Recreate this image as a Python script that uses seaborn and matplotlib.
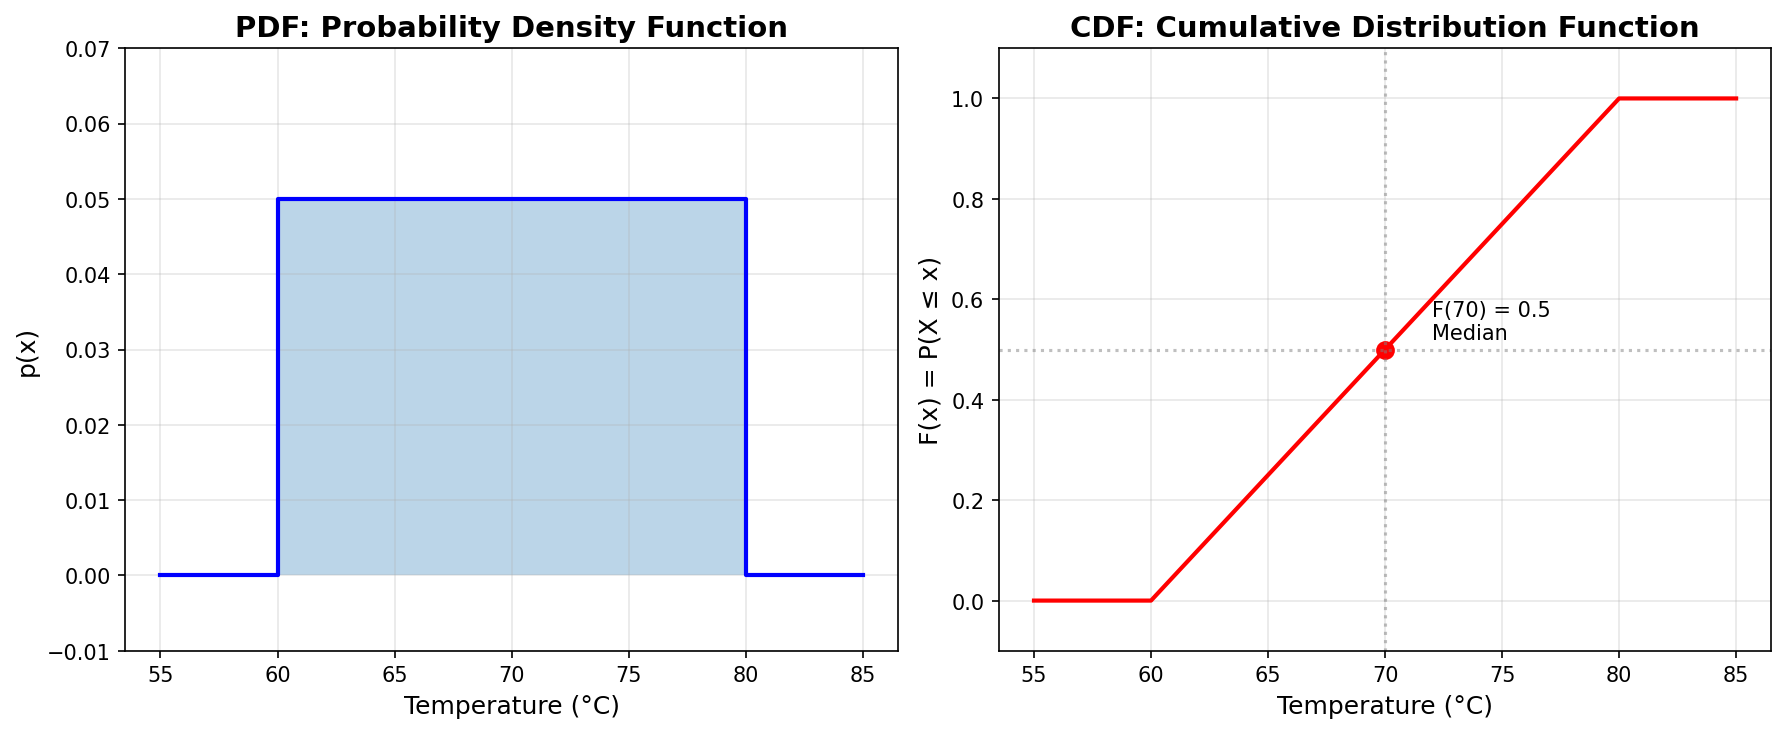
import numpy as np
import pandas as pd
import matplotlib
matplotlib.use("Agg")
import matplotlib.pyplot as plt
import seaborn as sns

# uniform distribution on [60, 80]
pdf_x = [55, 60, 60, 80, 80, 85]
pdf_y = [0.0, 0.0, 0.05, 0.05, 0.0, 0.0]
fill_x = [60, 80]
fill_y = [0.05, 0.05]

cdf_x = [55, 60, 80, 85]
cdf_y = [0.0, 0.0, 1.0, 1.0]

median_x = 70
median_y = 0.5

pdf_df = pd.DataFrame({"x": pdf_x, "y": pdf_y})
cdf_df = pd.DataFrame({"x": cdf_x, "y": cdf_y})

fig, axes = plt.subplots(1, 2, figsize=(11.907, 4.893), dpi=150)

# PDF
ax = axes[0]
sns.lineplot(data=pdf_df, x="x", y="y", ax=ax, color="blue", linewidth=2,
             estimator=None, sort=False)
ax.fill_between(fill_x, fill_y, alpha=0.3)
ax.set_ylim(-0.01, 0.07)
ax.set_xlabel("Temperature (°C)", fontsize=12)
ax.set_ylabel("p(x)", fontsize=12)
ax.set_title("PDF: Probability Density Function", fontsize=14, fontweight="bold")
ax.grid(True, alpha=0.3)

# CDF
ax = axes[1]
sns.lineplot(data=cdf_df, x="x", y="y", ax=ax, color="red", linewidth=2,
             estimator=None, sort=False)
ax.plot(median_x, median_y, "o", color="red", markersize=8)
ax.axvline(median_x, color="gray", linestyle=":", alpha=0.5)
ax.axhline(median_y, color="gray", linestyle=":", alpha=0.5)
ax.annotate(f"F({median_x}) = {median_y}\nMedian", xy=(median_x + 2, median_y + 0.02),
            fontsize=10)
ax.set_ylim(-0.1, 1.1)
ax.set_xlabel("Temperature (°C)", fontsize=12)
ax.set_ylabel("F(x) = P(X ≤ x)", fontsize=12)
ax.set_title("CDF: Cumulative Distribution Function", fontsize=14, fontweight="bold")
ax.grid(True, alpha=0.3)

plt.subplots_adjust(left=0.0702, right=0.9917, top=0.933, bottom=0.112, wspace=0.131)
plt.savefig("out.png", dpi=150)
